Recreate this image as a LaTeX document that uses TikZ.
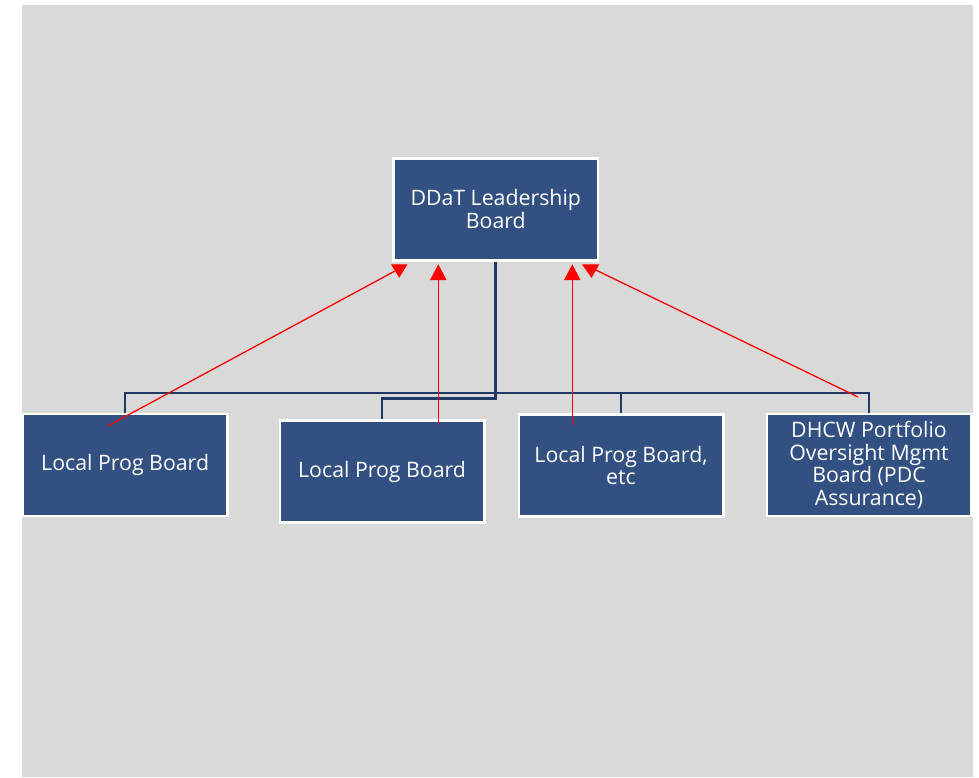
\documentclass[tikz,border=0pt]{standalone}
\usepackage{fontspec}
\setmainfont{Open Sans}
\definecolor{panel}{RGB}{217,217,217}
\definecolor{boxblue}{RGB}{50,80,130}
\definecolor{linkblue}{RGB}{32,56,100}
\tikzset{
  board/.style={draw=white, line width=2.5pt, fill=boxblue, text=white,
    minimum width=204.5pt, minimum height=102pt, inner sep=0pt,
    align=center, font=\fontsize{21.3}{22.5}\selectfont},
  link/.style={draw=linkblue, line width=2.6pt},
  report/.style={draw=red, line width=1.3pt},
  head/.style={fill=red}
}
\begin{document}
\begin{tikzpicture}[x=1pt, y=-1pt]
  \useasboundingbox (0,0) rectangle (979,777);
  \fill[panel] (22,5) rectangle (973,777);

  % bus levels of the organisation chart
  \coordinate (busA) at (0,392.8);
  \coordinate (busB) at (0,398.5);

  % boards
  \node[board] (top) at (495.75,209.25) {DDaT Leadership\\Board};
  \node[board] (b1) at (125.15,465.15) {Local Prog Board};
  \node[board] (b2) at (382.1,471.65) {Local Prog Board};
  \node[board] (b3) at (621,465.5) {Local Prog Board,\\etc};
  \node[board] (b4) at (869,465) {DHCW Portfolio\\Oversight Mgmt\\Board (PDC\\Assurance)};

  % reporting lines from the leadership board
  \draw[link] (top.south) -- (top.south |- busA) -| (b1.north);
  \draw[link] (top.south) -- (top.south |- busA) -| (b3.north);
  \draw[link] (top.south) -- (top.south |- busA) -| (b4.north);
  \draw[link] (top.south) -- (top.south |- busB) -| (b2.north);

  % assurance arrows back up to the leadership board
  \coordinate (r1s) at (107.7,426);
  \coordinate (r1e) at (395,271);
  \coordinate (r2s) at (438.3,425);
  \coordinate (r2e) at (438.3,279);
  \coordinate (r3s) at (572.3,425);
  \coordinate (r3e) at (572.3,279);
  \coordinate (r4s) at (858,397);
  \coordinate (r4e) at (596,270.1);
  \draw[report] (r1s) -- (r1e);
  \draw[report] (r2s) -- (r2e);
  \draw[report] (r3s) -- (r3e);
  \draw[report] (r4s) -- (r4e);
  \fill[head] (391,264.3) -- (407.5,264.3) -- (399.2,277.8) -- cycle;
  \fill[head] (438.3,264.3) -- (446.6,280) -- (430,280) -- cycle;
  \fill[head] (572.3,264.3) -- (580.6,280) -- (564,280) -- cycle;
  \fill[head] (582,264.3) -- (599.3,264.3) -- (591.5,277.9) -- cycle;
\end{tikzpicture}
\end{document}
